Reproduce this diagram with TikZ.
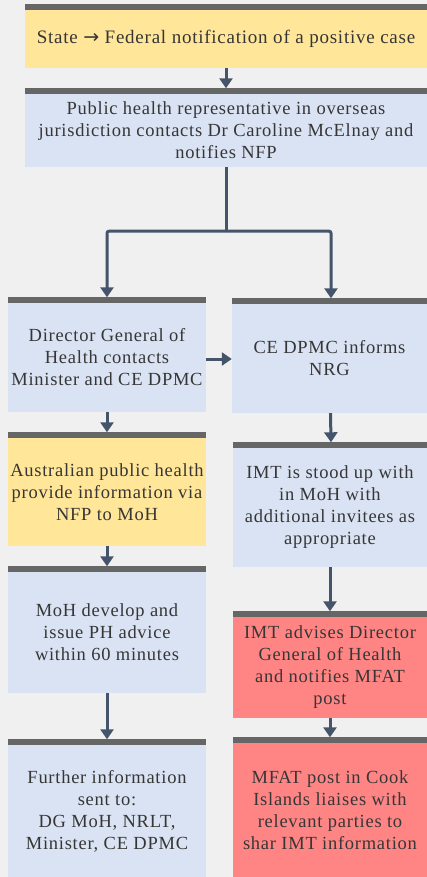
\documentclass[tikz,border=0pt]{standalone}
\usepackage{fontspec}
\setmainfont[LetterSpace=4]{Liberation Serif}
\newfontfamily\arrowfont{DejaVu Sans}
\usetikzlibrary{arrows.meta}
\definecolor{bg}{HTML}{F0F0F0}
\definecolor{yel}{HTML}{FFE699}
\definecolor{blu}{HTML}{DAE3F3}
\definecolor{redb}{HTML}{FF8585}
\definecolor{barc}{HTML}{666666}
\definecolor{arr}{HTML}{44546A}
\definecolor{txt}{HTML}{363636}
\tikzset{
  box/.style={rectangle, inner sep=0pt, align=center, text=txt,
    font=\rmfamily\fontsize{18.5}{22}\selectfont},
  flow/.style={draw=arr, line width=3pt, -{Triangle[width=13pt,length=10pt]}},
  plain/.style={draw=arr, line width=3pt},
  bar/.style={draw=barc, line width=5.5pt}
}
\begin{document}
\begin{tikzpicture}[x=1pt,y=1pt]
\fill[bg] (0,0) rectangle (427,-877);
\useasboundingbox (0,0) rectangle (427,-877);
\node[box, fill=yel, minimum width=402pt, minimum height=58pt, font=\rmfamily\fontsize{19}{22}\selectfont] (b1) at (226,-39)
  {State {\arrowfont →} Federal notification of a positive case};
\node[box, fill=blu, minimum width=402pt, minimum height=73pt] (b2) at (226,-130.5)
  {Public health representative in overseas\\jurisdiction contacts Dr Caroline McElnay and\\notifies NFP};
\node[box, fill=blu, minimum width=198pt, minimum height=109pt] (b3) at (107,-357.5)
  {Director General of\\Health contacts\\Minister and CE DPMC};
\node[box, fill=blu, minimum width=195pt, minimum height=109pt] (b4) at (329.5,-358.5)
  {CE DPMC informs\\NRG};
\node[box, fill=yel, minimum width=198pt, minimum height=108pt] (b5) at (107,-492)
  {Australian public health\\provide information via\\NFP to MoH};
\node[box, fill=blu, minimum width=194pt, minimum height=119pt] (b6) at (330,-507.5)
  {IMT is stood up with\\in MoH with\\additional invitees as\\appropriate};
\node[box, fill=blu, minimum width=198pt, minimum height=121pt] (b7) at (107,-632.5)
  {MoH develop and\\issue PH advice\\within 60 minutes};
\node[box, fill=redb, minimum width=194pt, minimum height=101pt] (b8) at (330,-667.5)
  {IMT advises Director\\General of Health\\and notifies MFAT\\post};
\node[box, fill=blu, minimum width=198pt, minimum height=132pt] (b9) at (107,-811)
  {Further information\\sent to:\\DG MoH, NRLT,\\Minister, CE DPMC};
\node[box, fill=redb, minimum width=194pt, minimum height=134pt] (b10) at (330,-810)
  {MFAT post in Cook\\Islands liaises with\\relevant parties to\\shar IMT information};
% top bars
\foreach \n in {b1,b2,b3,b4,b5,b6,b7,b8,b9,b10}{
  \draw[bar] ([yshift=2.75pt]\n.north west) -- ([yshift=2.75pt]\n.north east);
  \coordinate (\n t) at ([yshift=5.5pt]\n.north);
}
% connectors
\draw[flow] (b1.south) -- (b2t);
\coordinate (j) at ([yshift=-64pt]b2.south);
\coordinate (b4tt) at ([xshift=1.5pt]b4t);
\draw[plain] (b2.south) -- (j);
\draw[flow, rounded corners=2pt] (j) -| (b3t);
\draw[flow, rounded corners=2pt] (j) -| (b4tt);
\draw[flow] ([yshift=-1.5pt]b3.east) -- ([yshift=-1.5pt]b3.east -| b4.west);
\draw[flow] (b3.south) -- (b5t);
\draw[flow] (b5.south) -- (b7t);
\draw[flow] (b7.south) -- (b9t);
\draw[flow] ([xshift=1pt]b4.south) -- ([xshift=1pt]b6t);
\draw[flow] (b6.south) -- (b8t);
\draw[flow] (b8.south) -- (b10t);
\end{tikzpicture}
\end{document}
